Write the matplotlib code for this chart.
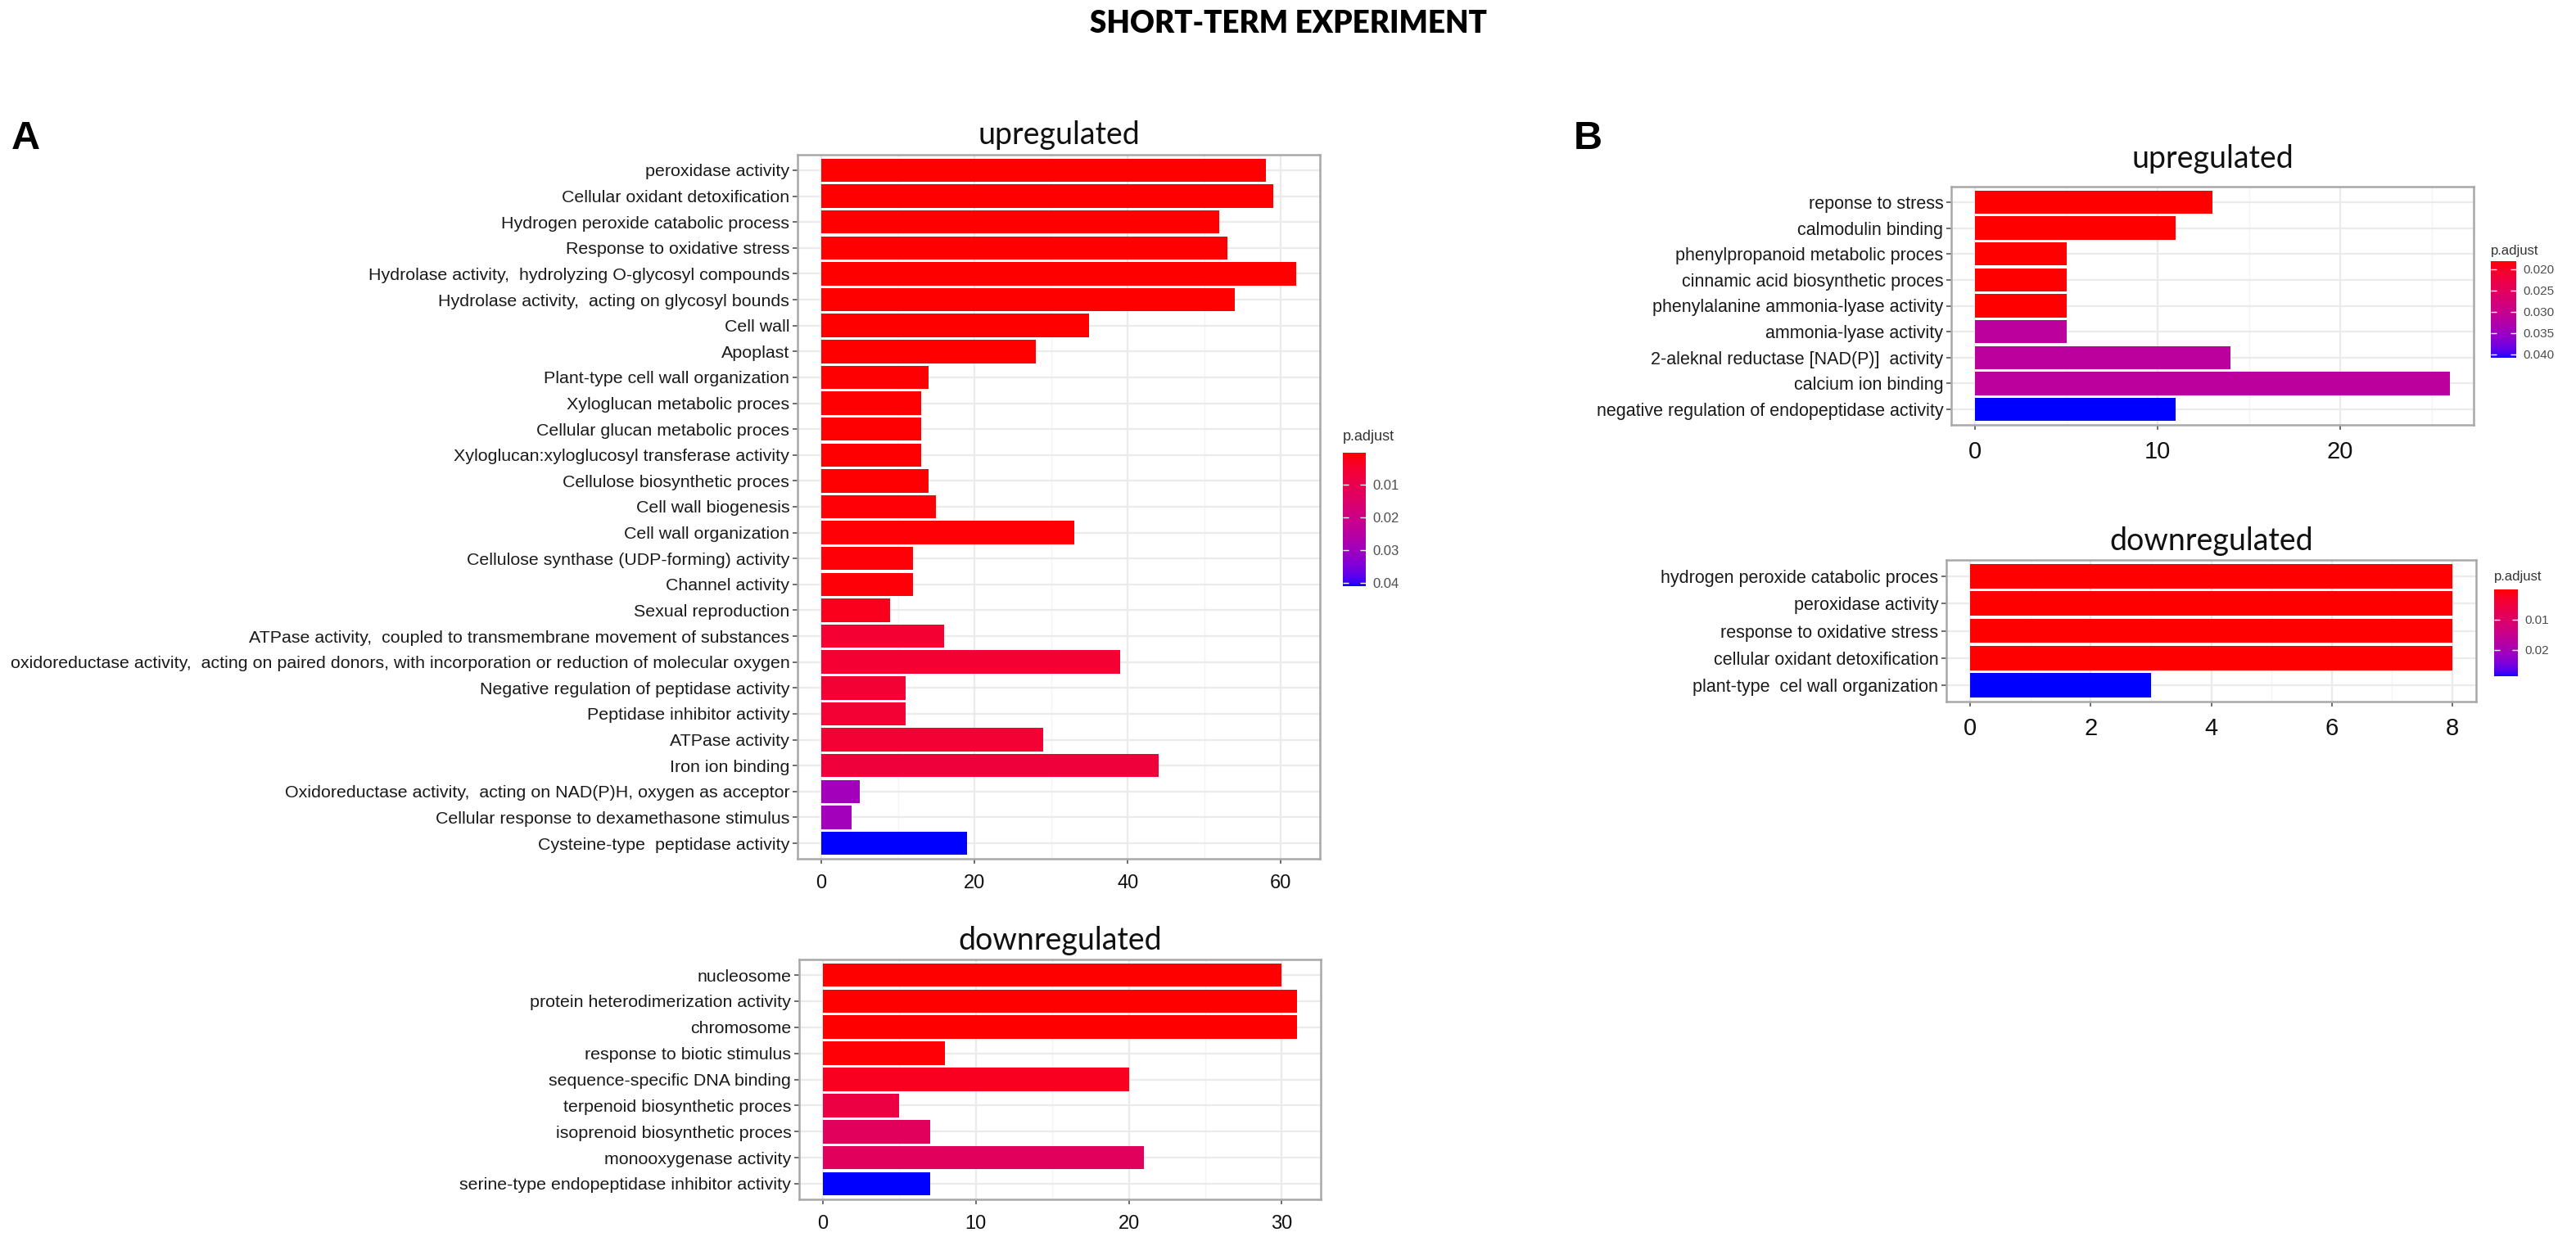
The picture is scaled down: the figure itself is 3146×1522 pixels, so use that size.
import numpy as np
import matplotlib
matplotlib.use("Agg")
import matplotlib.pyplot as plt
from matplotlib.colors import ListedColormap, Normalize
from matplotlib.cm import ScalarMappable

# ---- data -----------------------------------------------------------------
a_up_terms = [
    "peroxidase activity",
    "Cellular oxidant detoxification",
    "Hydrogen peroxide catabolic process",
    "Response to oxidative stress",
    "Hydrolase activity,  hydrolyzing O-glycosyl compounds",
    "Hydrolase activity,  acting on glycosyl bounds",
    "Cell wall",
    "Apoplast",
    "Plant-type cell wall organization",
    "Xyloglucan metabolic proces",
    "Cellular glucan metabolic proces",
    "Xyloglucan:xyloglucosyl transferase activity",
    "Cellulose biosynthetic proces",
    "Cell wall biogenesis",
    "Cell wall organization",
    "Cellulose synthase (UDP-forming) activity",
    "Channel activity",
    "Sexual reproduction",
    "ATPase activity,  coupled to transmembrane movement of substances",
    "oxidoreductase activity,  acting on paired donors, with incorporation or reduction of molecular oxygen",
    "Negative regulation of peptidase activity",
    "Peptidase inhibitor activity",
    "ATPase activity",
    "Iron ion binding",
    "Oxidoreductase activity,  acting on NAD(P)H, oxygen as acceptor",
    "Cellular response to dexamethasone stimulus",
    "Cysteine-type  peptidase activity",
]
a_up_count = [58, 59, 52, 53, 62, 54, 35, 28, 14, 13, 13, 13, 14, 15, 33, 12, 12,
              9, 16, 39, 11, 11, 29, 44, 5, 4, 19]
a_up_padj = [0.0002, 0.0002, 0.0002, 0.0002, 0.0002, 0.0002, 0.0003, 0.0003, 0.0004,
             0.0004, 0.0004, 0.0004, 0.0005, 0.0006, 0.0006, 0.0008, 0.0008,
             0.0025, 0.0055, 0.0055, 0.006, 0.006, 0.006, 0.007, 0.0295, 0.0295, 0.041]

a_down_terms = [
    "nucleosome",
    "protein heterodimerization activity",
    "chromosome",
    "response to biotic stimulus",
    "sequence-specific DNA binding",
    "terpenoid biosynthetic proces",
    "isoprenoid biosynthetic proces",
    "monooxygenase activity",
    "serine-type endopeptidase inhibitor activity",
]
a_down_count = [30, 31, 31, 8, 20, 5, 7, 21, 7]
a_down_padj = [0.0002, 0.0002, 0.0002, 0.0006, 0.003, 0.008, 0.0125, 0.0125, 0.04]

b_up_terms = [
    "reponse to stress",
    "calmodulin binding",
    "phenylpropanoid metabolic proces",
    "cinnamic acid biosynthetic proces",
    "phenylalanine ammonia-lyase activity",
    "ammonia-lyase activity",
    "2-aleknal reductase [NAD(P)]  activity",
    "calcium ion binding",
    "negative regulation of endopeptidase activity",
]
b_up_count = [13, 11, 5, 5, 5, 5, 14, 26, 11]
b_up_padj = [0.0181, 0.0181, 0.0181, 0.0181, 0.0181, 0.0315, 0.0315, 0.0315, 0.0408]

b_down_terms = [
    "hydrogen peroxide catabolic proces",
    "peroxidase activity",
    "response to oxidative stress",
    "cellular oxidant detoxification",
    "plant-type  cel wall organization",
]
b_down_count = [8, 8, 8, 8, 3]
b_down_padj = [0.0001, 0.0001, 0.0001, 0.0001, 0.0287]

a_up_cbar_ticks = [0.01, 0.02, 0.03, 0.04]
b_up_cbar_ticks = [0.020, 0.025, 0.030, 0.035, 0.040]
b_down_cbar_ticks = [0.01, 0.02]

# ---- red -> blue gradient interpolated in CIELAB (like ggplot) -------------
M = np.array([[0.4124, 0.3576, 0.1805],
              [0.2126, 0.7152, 0.0722],
              [0.0193, 0.1192, 0.9505]])
WHITE = np.array([0.95047, 1.0, 1.08883])


def to_lab(rgb):
    c = np.asarray(rgb, float)
    lin = np.where(c <= 0.04045, c / 12.92, ((c + 0.055) / 1.055) ** 2.4)
    xyz = M @ lin / WHITE
    f = np.where(xyz > 0.008856, np.cbrt(xyz), 7.787 * xyz + 16 / 116)
    return np.array([116 * f[1] - 16, 500 * (f[0] - f[1]), 200 * (f[1] - f[2])])


def to_rgb(lab):
    L, a, b = lab
    fy = (L + 16) / 116
    f = np.array([fy + a / 500, fy, fy - b / 200])
    xyz = np.where(f ** 3 > 0.008856, f ** 3, (f - 16 / 116) / 7.787) * WHITE
    lin = np.clip(np.linalg.solve(M, xyz), 0, 1)
    c = np.where(lin <= 0.0031308, 12.92 * lin, 1.055 * lin ** (1 / 2.4) - 0.055)
    return np.clip(c, 0, 1)


lab_lo, lab_hi = to_lab([1, 0, 0]), to_lab([0, 0, 1])
cmap = ListedColormap([to_rgb(lab_lo + t * (lab_hi - lab_lo)) for t in np.linspace(0, 1, 256)])

# ---- figure ---------------------------------------------------------------
W, H = 3146, 1522
fig = plt.figure(figsize=(W / 100, H / 100), dpi=100)
plt.rcParams['font.family'] = ['Liberation Sans', 'DejaVu Sans']


def box(l, t, r, b):
    return [l / W, 1 - b / H, (r - l) / W, (b - t) / H]


def bar_panel(rect, terms, counts, padj, step, label_size, tick_size, title, title_y):
    ax = fig.add_axes(box(*rect))
    norm = Normalize(min(padj), max(padj))
    y = np.arange(len(terms))[::-1]
    ax.barh(y, counts, height=0.9, color=cmap(norm(padj)), zorder=3)
    top = max(counts)
    ax.set_xlim(-0.05 * top, 1.05 * top)
    ax.set_ylim(-0.6, len(terms) - 0.4)
    ax.set_xticks(np.arange(0, top + 0.01, step))
    ax.set_xticks(np.arange(step / 2, 1.05 * top, step), minor=True)
    ax.set_yticks(y, terms)
    ax.grid(True, which='major', color='#EBEBEB', lw=1.6, zorder=0)
    ax.grid(True, which='minor', axis='x', color='#F4F4F4', lw=1.0, zorder=0)
    ax.tick_params(axis='y', labelsize=label_size, labelcolor='#1a1a1a', color='#555555',
                   length=4, width=1.2, pad=3)
    ax.tick_params(axis='x', labelsize=tick_size, labelcolor='#111111', color='#555555',
                   length=4, width=1.2, pad=10)
    ax.tick_params(axis='x', which='minor', length=0)
    for s in ax.spines.values():
        s.set_color('#A8A8A8')
        s.set_linewidth(1.8)
    cx = (rect[0] + rect[2]) / 2
    fig.text(cx / W, 1 - title_y / H, title, family='Lato', fontsize=27,
             ha='center', va='center', color='#111111')
    return norm


def colorbar(rect, norm, ticks, fmt, label_y, size):
    cax = fig.add_axes(box(*rect))
    cb = fig.colorbar(ScalarMappable(norm=norm, cmap=cmap), cax=cax)
    cb.outline.set_visible(False)
    cax.invert_yaxis()
    cb.set_ticks(ticks)
    cb.set_ticklabels([fmt.format(t) for t in ticks])
    cax.tick_params(axis='y', direction='in', left=True, right=True, length=5, width=1,
                    color='white', labelcolor='#4D4D4D', labelsize=size, pad=6)
    fig.text(rect[0] / W, 1 - label_y / H, "p.adjust", fontsize=size + 1, color='#333333',
             ha='left', va='center')


# panel A
n_a_up = bar_panel((974, 189, 1612, 1049), a_up_terms, a_up_count, a_up_padj, 20,
                   15.4, 17, "upregulated", 165)
colorbar((1640, 553, 1668, 716), n_a_up, a_up_cbar_ticks, "{:.2f}", 533, 12)
bar_panel((976, 1172, 1613, 1465), a_down_terms, a_down_count, a_down_padj, 10,
          15.4, 17, "downregulated", 1149)

# panel B
n_b_up = bar_panel((2383, 228, 3021, 519), b_up_terms, b_up_count, b_up_padj, 10,
                   15.5, 21, "upregulated", 194)
colorbar((3042, 319, 3073, 437), n_b_up, b_up_cbar_ticks, "{:.3f}", 306, 11)
n_b_down = bar_panel((2377, 684, 3024, 857), b_down_terms, b_down_count, b_down_padj, 2,
                     15.5, 21, "downregulated", 661)
colorbar((3046, 720, 3075, 826), n_b_down, b_down_cbar_ticks, "{:.2f}", 705, 11)

# headings
fig.text(0.5, 1 - 29 / H, "SHORT-TERM EXPERIMENT", family='Lato', fontweight='heavy',
         fontsize=26.5, ha='center', va='center', color='black')
fig.text(31 / W, 1 - 170 / H, "A", fontsize=35, fontweight='bold', ha='center', va='center')
fig.text(1939 / W, 1 - 170 / H, "B", fontsize=35, fontweight='bold', ha='center', va='center')

fig.savefig("out.png", dpi=100, facecolor='white')
